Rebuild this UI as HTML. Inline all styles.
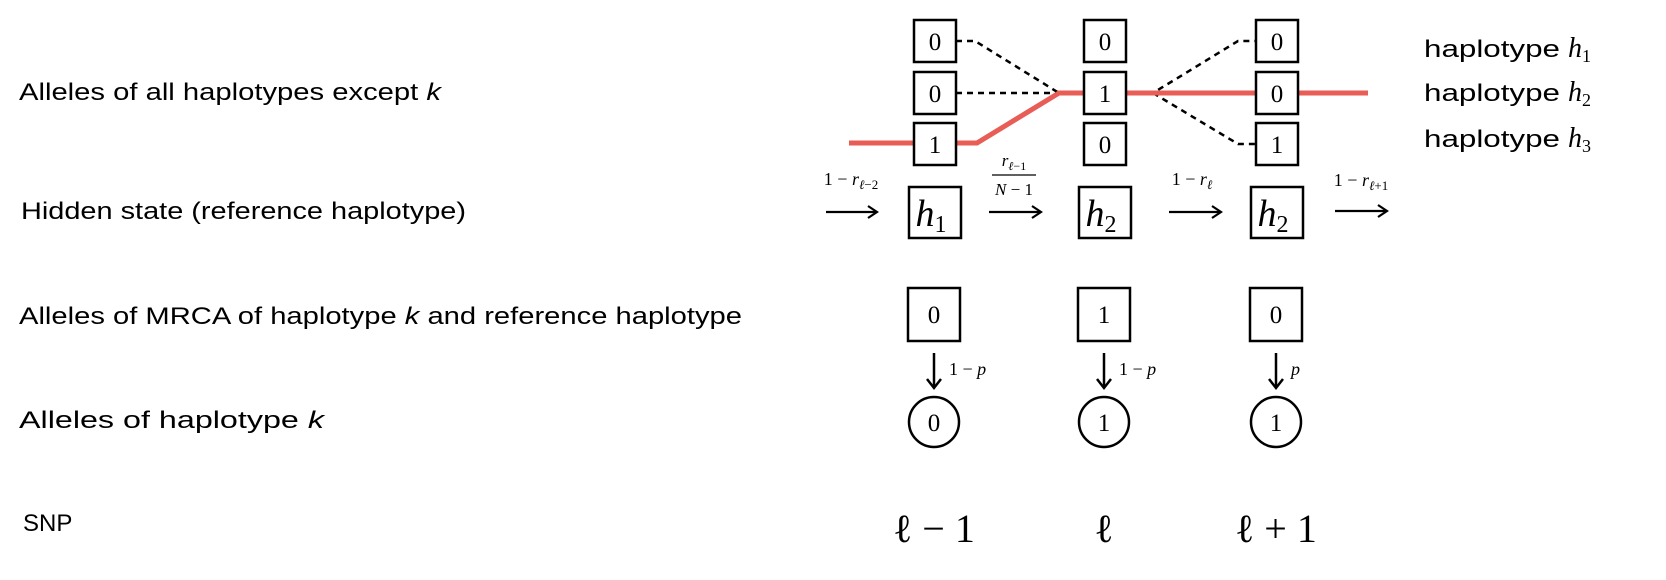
<!DOCTYPE html>
<html><head><meta charset="utf-8"><style>
html,body{margin:0;padding:0;background:#fff;}
svg{display:block;}
.lab{font-family:"Liberation Sans",Arial,sans-serif;font-size:24px;fill:#000;}
.m{font-family:"Liberation Serif",serif;fill:#000;}
.i{font-style:italic;}
</style></head><body>
<svg id="fig" width="1666" height="580" viewBox="0 0 1666 580" xmlns="http://www.w3.org/2000/svg">
<g>
<text class="lab" x="19" y="100" textLength="422" lengthAdjust="spacingAndGlyphs">Alleles of all haplotypes except <tspan font-style="italic">k</tspan></text>
<text class="lab" x="21" y="219" textLength="445" lengthAdjust="spacingAndGlyphs">Hidden state (reference haplotype)</text>
<text class="lab" x="19" y="324" textLength="723" lengthAdjust="spacingAndGlyphs">Alleles of MRCA of haplotype <tspan font-style="italic">k</tspan> and reference haplotype</text>
<text class="lab" x="19" y="428" textLength="305" lengthAdjust="spacingAndGlyphs">Alleles of haplotype <tspan font-style="italic">k</tspan></text>
<text class="lab" x="23" y="531">SNP</text>
</g>
<g>
<text class="lab" x="1424" y="57" font-size="27"><tspan textLength="136" lengthAdjust="spacingAndGlyphs">haplotype</tspan><tspan class="m i" font-size="28" dx="8">h</tspan><tspan class="m" font-size="18" dy="5">1</tspan></text>
<text class="lab" x="1424" y="101" font-size="27"><tspan textLength="136" lengthAdjust="spacingAndGlyphs">haplotype</tspan><tspan class="m i" font-size="28" dx="8">h</tspan><tspan class="m" font-size="18" dy="5">2</tspan></text>
<text class="lab" x="1424" y="147" font-size="27"><tspan textLength="136" lengthAdjust="spacingAndGlyphs">haplotype</tspan><tspan class="m i" font-size="28" dx="8">h</tspan><tspan class="m" font-size="18" dy="5">3</tspan></text>
</g>
<g id="paths">
<polyline points="956,41 975,41 1059,93" fill="none" stroke="#000" stroke-width="2.5" stroke-dasharray="6,5"/>
<polyline points="956,93 1059,93 1085,93" fill="none" stroke="#000" stroke-width="2.5" stroke-dasharray="6,5"/>
<polyline points="1126,93 1153,93 1238,41 1257,41" fill="none" stroke="#000" stroke-width="2.5" stroke-dasharray="6,5"/>
<polyline points="1153,93 1238,144 1257,144" fill="none" stroke="#000" stroke-width="2.5" stroke-dasharray="6,5"/>
<polyline points="849,143 977,143 1059,93 1368,93" fill="none" stroke="#e85d56" stroke-width="5"/>
</g>
<g id="cols"></g>
<g>
<line x1="826" y1="212" x2="876" y2="212" stroke="#000" stroke-width="2.2"/><polyline points="868,206 877,212 868,218" fill="none" stroke="#000" stroke-width="2.2"/>
<line x1="989" y1="212" x2="1040" y2="212" stroke="#000" stroke-width="2.2"/><polyline points="1032,206 1041,212 1032,218" fill="none" stroke="#000" stroke-width="2.2"/>
<line x1="1169" y1="212" x2="1220" y2="212" stroke="#000" stroke-width="2.2"/><polyline points="1212,206 1221,212 1212,218" fill="none" stroke="#000" stroke-width="2.2"/>
<line x1="1335" y1="211" x2="1386" y2="211" stroke="#000" stroke-width="2.2"/><polyline points="1378,205 1387,211 1378,217" fill="none" stroke="#000" stroke-width="2.2"/>
<text class="m" x="851" y="185" font-size="18" text-anchor="middle">1 − <tspan class="i">r</tspan><tspan font-size="13" dy="4" class="i">ℓ</tspan><tspan font-size="13">−2</tspan></text>
<text class="m" x="1014" y="166" font-size="17" text-anchor="middle"><tspan class="i">r</tspan><tspan font-size="12" dy="4" class="i">ℓ</tspan><tspan font-size="12">−1</tspan></text>
<line x1="992" y1="175" x2="1036" y2="175" stroke="#000" stroke-width="1.2"/>
<text class="m" x="1014" y="195" font-size="17" text-anchor="middle"><tspan class="i">N</tspan> − 1</text>
<text class="m" x="1192" y="185" font-size="18" text-anchor="middle">1 − <tspan class="i">r</tspan><tspan font-size="13" dy="4" class="i">ℓ</tspan></text>
<text class="m" x="1361" y="186" font-size="18" text-anchor="middle">1 − <tspan class="i">r</tspan><tspan font-size="13" dy="4" class="i">ℓ</tspan><tspan font-size="13">+1</tspan></text>
</g>
</svg>
<script>
const colX=[935,1105,1277];
const topAlleles=[[0,0,1],[0,1,0],[0,0,1]];
const hiddenStates=[1,2,2];
const mrcaAlleles=[0,1,0];
const kAlleles=[0,1,1];
const emitLabels=["1 − ","1 − ",""];
const snpLabels=["ℓ − 1","ℓ","ℓ + 1"];
const rowY=[41,93,144];
const NS="http://www.w3.org/2000/svg";
const g=document.getElementById('cols');
function mk(tag,attrs,parent){const e=document.createElementNS(NS,tag);for(const k in attrs)e.setAttribute(k,attrs[k]);(parent||g).appendChild(e);return e;}
colX.forEach((cx,c)=>{
  topAlleles[c].forEach((v,r)=>{
    const b=mk('rect',{x:cx-21,y:rowY[r]-21,width:42,height:42,fill:'#fff',stroke:'#000','stroke-width':2.5});
    
    
    const t=mk('text',{x:cx,y:rowY[r]+9,'font-size':25,'text-anchor':'middle',class:'m'});
    t.textContent=v;
    
    
  });
  const hb=mk('rect',{x:cx-26,y:187,width:52,height:51,fill:'#fff',stroke:'#000','stroke-width':2.5});
  
  
  const ht=mk('text',{x:cx-4,y:226,'font-size':38,'text-anchor':'middle',class:'m i'});
  ht.textContent='h';
  
  
  const hs=mk('tspan',{'font-size':24,dy:6,'font-style':'normal'},ht);hs.textContent=hiddenStates[c];
  const mx=cx-1;
  const mb=mk('rect',{x:mx-26,y:288,width:52,height:53,fill:'#fff',stroke:'#000','stroke-width':2.5});
  
  
  const mt=mk('text',{x:mx,y:323,'font-size':25,'text-anchor':'middle',class:'m'});
  mt.textContent=mrcaAlleles[c];
  
  
  mk('line',{x1:mx,y1:353,x2:mx,y2:387,stroke:'#000','stroke-width':2.5});
  mk('polyline',{points:`${mx-7},379 ${mx},388 ${mx+7},379`,fill:'none',stroke:'#000','stroke-width':2.5});
  const el=mk('text',{x:mx+15,y:375,'font-size':18,class:'m'});
  el.textContent=emitLabels[c];
  
  
  const ep=mk('tspan',{'font-style':'italic'},el);ep.textContent='p';
  const ci=mk('circle',{cx:mx,cy:422,r:25,fill:'#fff',stroke:'#000','stroke-width':2.5});
  
  
  const ct=mk('text',{x:mx,y:431,'font-size':25,'text-anchor':'middle',class:'m'});
  ct.textContent=kAlleles[c];
  
  
  const st=mk('text',{x:mx,y:542,'font-size':40,'text-anchor':'middle',class:'m'});
  st.textContent=snpLabels[c];
  
  
});
</script>
</body></html>
